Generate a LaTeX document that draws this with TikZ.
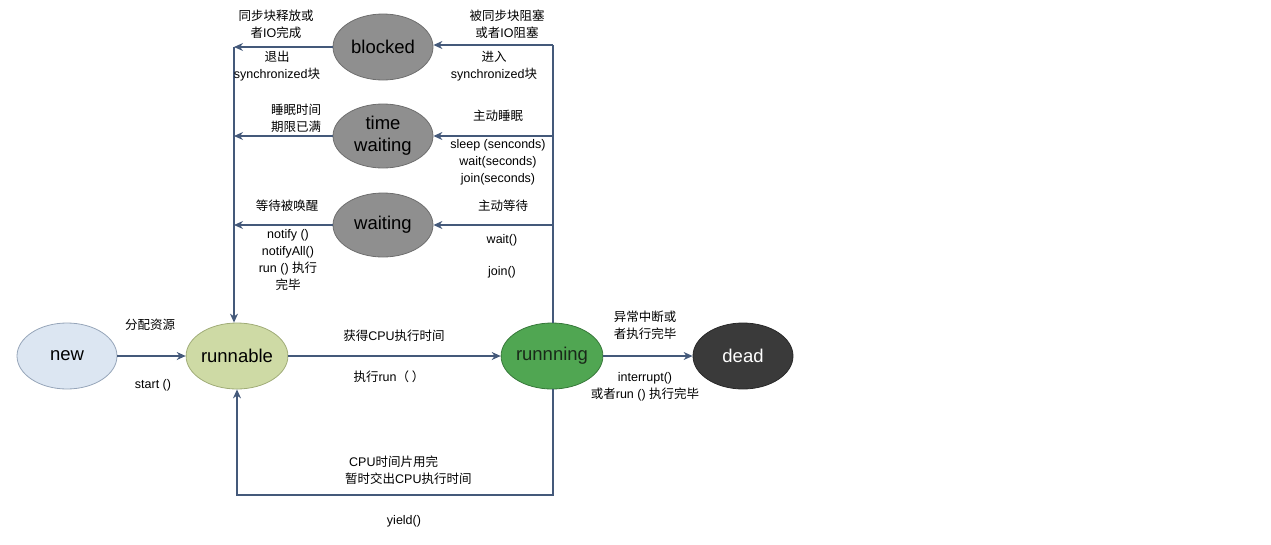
\documentclass[tikz,border=0pt]{standalone}
\usepackage{fontspec}
\setmainfont{Liberation Sans}
\newfontfamily\cjk{Noto Sans CJK SC}
\newcommand{\zh}[1]{{\cjk #1}}
\usetikzlibrary{shapes.geometric,arrows.meta}
\definecolor{linec}{HTML}{44597A}
\begin{document}
\begin{tikzpicture}[x=1pt,y=-1pt,
  state/.style={ellipse,minimum width=100pt,minimum height=66pt,inner sep=0pt,line width=0.8pt,font=\fontsize{18.5}{22}\selectfont,align=center},
  conn/.style={draw=linec,line width=1.1pt},
  arr/.style={conn,-{Stealth[length=9pt,width=8pt]}},
  lbl/.style={font=\fontsize{12.5}{17}\selectfont,align=center,inner sep=0pt}]
\useasboundingbox (0,0) rectangle (1271,544);
% nodes
\node[state,fill={rgb,255:red,220;green,230;blue,242},draw={rgb,255:red,150;green,165;blue,185}] (new) at (67,356) {new};
\node[state,fill={rgb,255:red,206;green,218;blue,165},draw={rgb,255:red,160;green,172;blue,120}] (runnable) at (237,356) {runnable};
\node[state,fill={rgb,255:red,80;green,166;blue,82},draw={rgb,255:red,55;green,120;blue,58},text={rgb,255:red,25;green,40;blue,25}] (running) at (552,356) {runnning};
\node[state,fill={rgb,255:red,58;green,58;blue,58},draw={rgb,255:red,40;green,40;blue,40},text=white] (dead) at (743,356) {dead};
\node[state,fill={rgb,255:red,143;green,143;blue,143},draw={rgb,255:red,110;green,110;blue,110}] (blocked) at (383,47) {blocked};
\node[state,fill={rgb,255:red,143;green,143;blue,143},draw={rgb,255:red,110;green,110;blue,110},minimum height=64pt,font=\fontsize{18.5}{22}\selectfont] (tw) at (383,136) {time\\waiting};
\node[state,fill={rgb,255:red,143;green,143;blue,143},draw={rgb,255:red,110;green,110;blue,110},minimum height=64pt] (waiting) at (383,225) {waiting};
% coordinates
\coordinate (L1) at (234,47);
\coordinate (L2) at (234,136);
\coordinate (L3) at (234,225);
\coordinate (R1) at (553,45);
\coordinate (R2) at (553,136);
\coordinate (R3) at (553,225);
\coordinate (B1) at (553,495);
\coordinate (B2) at (237,495);
% connectors
\draw[arr] (new) -- (runnable);
\draw[arr] (runnable) -- (running);
\draw[arr] (running) -- (dead);
\draw[arr] (blocked.west) -- (L1);
\draw[arr] (tw.west) -- (L2);
\draw[arr] (waiting.west) -- (L3);
\draw[arr] (L1) -- (L1 |- runnable.north);
\draw[conn] (running.north -| R1) -- (R1);
\draw[arr] (R1) -- (R1 -| blocked.east);
\draw[arr] (R2) -- (tw.east);
\draw[arr] (R3) -- (waiting.east);
\draw[arr] (running.south -| B1) -- (B1) -- (B2) -- (runnable.south);
% labels
\node[lbl] (t1) at (276,24) {\zh{同步块释放或}\\\zh{者}IO\zh{完成}};
\node[lbl] (t2) at (277,66) {\zh{退出}\\synchronized\zh{块}};
\node[lbl] (t3) at (507,24) {\zh{被同步块阻塞}\\\zh{或者}IO\zh{阻塞}};
\node[lbl] (t4) at (494,66) {\zh{进入}\\synchronized\zh{块}};
\node[lbl] (t5) at (296,118) {\zh{睡眠时间}\\\zh{期限已满}};
\node[lbl] (t6) at (498,116) {\zh{主动睡眠}};
\node[lbl] (t7) at (498,162) {sleep (senconds)\\wait(seconds)\\join(seconds)};
\node[lbl] (t8) at (287,206) {\zh{等待被唤醒}};
\node[lbl] (t9) at (503,206) {\zh{主动等待}};
\node[lbl] (t10) at (288,260) {notify ()\\notifyAll()\\run () \zh{执行}\\\zh{完毕}};
\node[lbl] (t11) at (502,240) {wait()};
\node[lbl] (t12) at (502,272) {join()};
\node[lbl] (t13) at (150,325) {\zh{分配资源}};
\node[lbl] (t14) at (153,385) {start ()};
\node[lbl] (t15) at (394,336) {\zh{获得}CPU\zh{执行时间}};
\node[lbl] (t16) at (389,377) {\zh{执行}run\zh{（ ）}};
\node[lbl] (t17) at (645,325) {\zh{异常中断或}\\\zh{者执行完毕}};
\node[lbl] (t18) at (645,387) {interrupt()\\\zh{或者}run () \zh{执行完毕}};
\node[lbl,align=left,anchor=west] (t19) at (345,470) {\hspace*{4pt}CPU\zh{时间片用完}\\\zh{暂时交出}CPU\zh{执行时间}};
\node[lbl] (t20) at (404,521) {yield()};
\end{tikzpicture}
\end{document}
